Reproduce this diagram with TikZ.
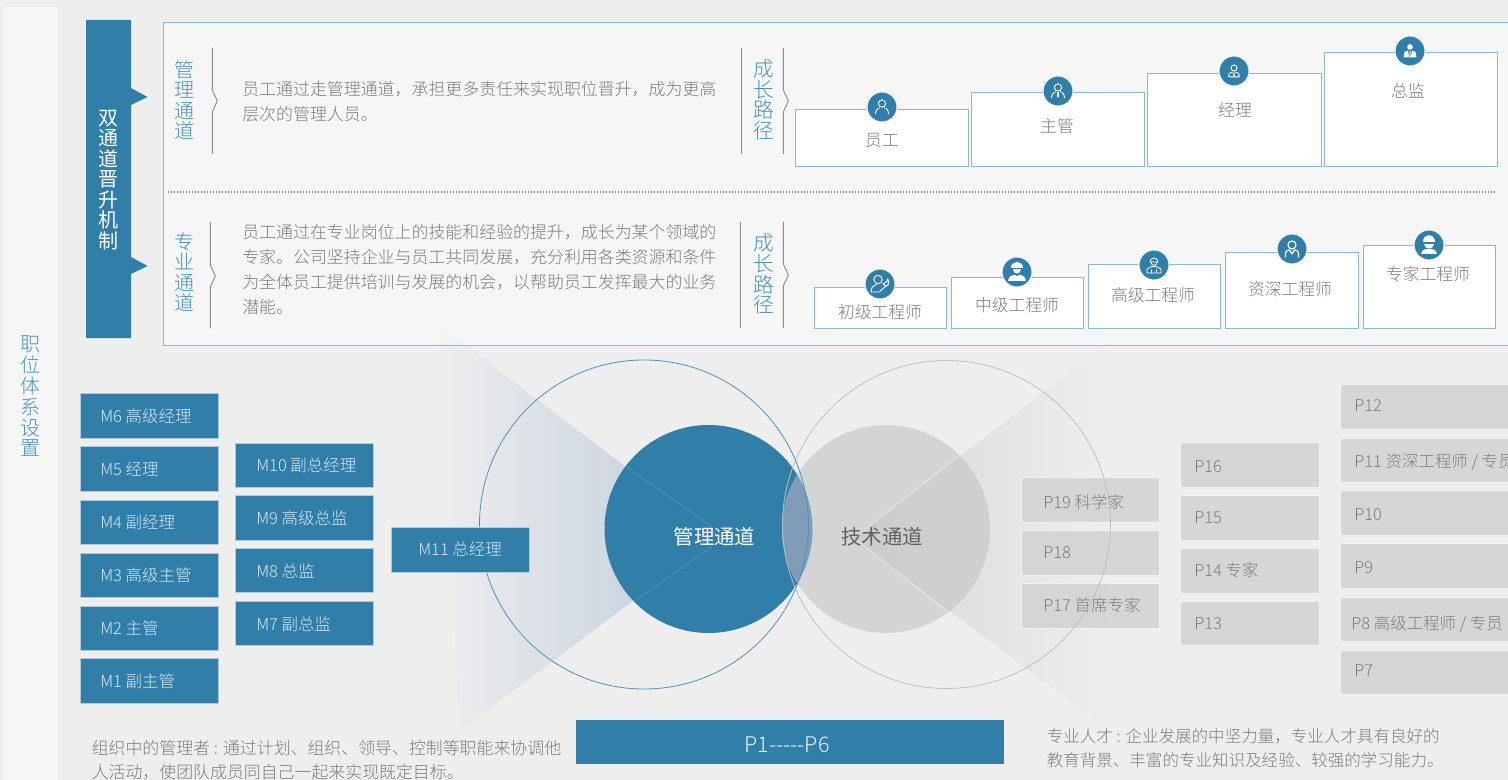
\documentclass[tikz,border=0pt]{standalone}
\usepackage{fontspec}
\setmainfont{Noto Sans CJK SC}[UprightFont=* Light]
\newfontfamily\regf{Noto Sans CJK SC}
\usetikzlibrary{fadings,calc}
\definecolor{bgc}{HTML}{EEEEEE}
\definecolor{panelc}{HTML}{F6F6F6}
\definecolor{mainb}{HTML}{317EA9}
\definecolor{textb}{HTML}{4A92BA}
\definecolor{edgeb}{HTML}{8BB8D2}
\definecolor{greyb}{HTML}{D3D4D5}
\definecolor{txtg}{HTML}{7C7C7C}
\definecolor{txtl}{HTML}{D6E9F4}
\definecolor{halo}{HTML}{EEF3F6}
\definecolor{fanc}{HTML}{BECCDC}
\definecolor{lens}{HTML}{7F9DB8}
\tikzfading[name=fanleft, left color=transparent!100, right color=transparent!0]
\tikzfading[name=fanright, left color=transparent!0, right color=transparent!100]
\tikzset{
  x=.75pt,y=-.75pt,
  lbl/.style={inner sep=0pt,text height=1em,text depth=0em},
  mbox/.style={fill=mainb,draw=white!60!mainb,line width=.6pt,inner sep=0pt,outer sep=0pt,anchor=north west},
  pbox/.style={fill=greyb,fill opacity=.92,draw=white!70!greyb,line width=.7pt,inner sep=0pt,outer sep=0pt,anchor=north west},
  wbox/.style={fill=white,draw=edgeb,line width=.6pt,inner sep=0pt,outer sep=0pt,anchor=north west},
  mlbl/.style={lbl,text=txtl,font=\fontsize{12.35}{14}\selectfont,anchor=west},
  plbl/.style={lbl,text=txtg,font=\fontsize{12.35}{14}\selectfont,anchor=west},
  wlbl/.style={lbl,text=txtg,font=\fontsize{12.6}{14}\selectfont},
  vblue/.style={inner sep=0pt,text=textb,align=center,font=\fontsize{15.5}{15.5}\selectfont},
  para/.style={inner sep=0pt,text=txtg,align=left,anchor=west,font=\fontsize{12.7}{18.75}\selectfont},
  parab/.style={inner sep=0pt,text=txtg,align=left,anchor=west,font=\fontsize{12.68}{17.8}\selectfont},
  iconc/.style={circle,fill=mainb,draw=halo,line width=.8pt,minimum size=22.5pt,inner sep=0pt},
  ico/.style={draw=white,line width=.7pt,line cap=round,line join=round},
  brk/.style={draw=black!45,line width=.7pt},
}
% style prefix, name, x1,y1,x2,y2, text x, text y, text
\newcommand\bxt[9]{%
  \pgfmathsetmacro\bxw{(#5-#3)*.75}\pgfmathsetmacro\bxh{(#6-#4)*.75}%
  \node[#1box,minimum width=\bxw pt,minimum height=\bxh pt] (#2) at (#3,#4) {};
  \node[#1lbl] (#2t) at (#7,#8) {#9};}
\newcommand\wbx[8]{% name,x1,y1,x2,y2,textx,texty,text
  \pgfmathsetmacro\bxw{(#4-#2)*.75}\pgfmathsetmacro\bxh{(#5-#3)*.75}%
  \node[wbox,minimum width=\bxw pt,minimum height=\bxh pt] (#1) at (#2,#3) {};
  \node[wlbl] (#1t) at (#6,#7) {#8};}
\newcommand\notchline[4]{% x, ytop, ybot, ymid
  \draw[brk] (#1,#2) -- (#1,#4-11) -- (#1+5,#4) -- (#1,#4+11) -- (#1,#3);}
\newcommand\uhead{\draw[ico] (0,-3.5) circle (3.6);}
\newcommand\ubody{\draw[ico] (-6.5,7) .. controls (-6.5,2.5) and (-3.5,1) .. (-2.5,.8) (2.5,.8) .. controls (3.5,1) and (6.5,2.5) .. (6.5,7);}
\begin{document}
\begin{tikzpicture}
\useasboundingbox (0,0) rectangle (1508,780);
\clip (0,0) rectangle (1508,780);
\fill[bgc] (0,0) rectangle (1508,780);
% left strip
\fill[panelc] (3,7) rectangle (58,780);
\node[vblue,font=\fontsize{15}{15.6}\selectfont] (side) at (30,396.5) {职\\位\\体\\系\\设\\置};
% top panel
\fill[panelc,draw=edgeb,line width=.7pt] (163,22) rectangle (1512,345);
% banner
\fill[mainb] (86,20) -- (131,20) -- (131,88) -- (147.5,97) -- (131,105) -- (131,257) -- (147.5,266) -- (131,274) -- (131,338) -- (86,338) -- cycle;
\node[inner sep=0pt,text=white,align=center,font=\regf\fontsize{15}{15.4}\selectfont] (banner) at (108.5,180) {双\\通\\道\\晋\\升\\机\\制};
% panel content
\node[vblue,font=\fontsize{15}{15.4}\selectfont] (mgmt) at (184,100) {管\\理\\通\\道};
\node[vblue,font=\fontsize{15}{15.4}\selectfont] (prof) at (184,272) {专\\业\\通\\道};
\notchline{212.3}{48}{154}{101}
\notchline{210.3}{222}{328}{276}
\node[para] (d1) at (242,101.5) {员工通过走管理通道，承担更多责任来实现职位晋升，成为更高\\层次的管理人员。};
\node[para] (d2) at (242,269.5) {员工通过在专业岗位上的技能和经验的提升，成长为某个领域的\\专家。公司坚持企业与员工共同发展，充分利用各类资源和条件\\为全体员工提供培训与发展的机会，以帮助员工发挥最大的业务\\潜能。};
\draw[brk] (741,48) -- (741,154);
\draw[brk] (740.5,222) -- (740.5,328);
\notchline{783.3}{48}{154}{101}
\notchline{783.3}{222}{328}{275}
\node[vblue] (g1) at (764,99.5) {成\\长\\路\\径};
\node[vblue] (g2) at (764,274) {成\\长\\路\\径};
\draw[black!55,line width=.8pt,dash pattern=on .8pt off 1.45pt] (168,192) -- (1497,192);
% top boxes
\wbx{w1}{795}{109}{968.5}{166}{882}{140}{员工}
\wbx{w2}{971}{92.5}{1144.5}{166}{1057}{126}{主管}
\wbx{w3}{1147.5}{73.5}{1321}{166}{1235}{110}{经理}
\wbx{w4}{1324}{52.5}{1497}{166}{1408}{91}{总监}
\wbx{w5}{814}{287}{946}{328.5}{880}{312}{初级工程师}
\wbx{w6}{951.5}{277}{1083}{328.5}{1017}{305}{中级工程师}
\wbx{w7}{1088.5}{264.5}{1220}{328.5}{1153}{295}{高级工程师}
\wbx{w8}{1225.5}{252}{1358}{328.5}{1290}{289}{资深工程师}
\wbx{w9}{1363}{245.5}{1495}{328.5}{1428}{274}{专家工程师}
% icons
\node[iconc] (i1) at (882,107) {};
\begin{scope}[shift={(i1.center)}]\uhead\ubody\end{scope}
\node[iconc] (i2) at (1058,91) {};
\begin{scope}[shift={(i2.center)}]\uhead\ubody\fill[white] (-1,1.5) -- (1,1.5) -- (.7,6.5) -- (-.7,6.5) -- cycle;\end{scope}
\node[iconc] (i3) at (1234,71) {};
\begin{scope}[shift={(i3.center)},scale=.85]\uhead\draw[ico] (-6,7) -- (-6,4) .. controls (-6,2) and (-3,1.5) .. (-2,1.5) (2,1.5) .. controls (3,1.5) and (6,2) .. (6,4) -- (6,7) -- (-6,7);\fill[white] (0,3) circle (1.3) (-.7,3) rectangle (.7,7);\end{scope}
\node[iconc] (i4) at (1410,51) {};
\begin{scope}[shift={(i4.center)}]\fill[white] (0,-4) circle (2.8);\fill[white] (-6.5,6.5) -- (-5.5,1) -- (-2,-.5) -- (-.8,6.5) -- cycle (6.5,6.5) -- (5.5,1) -- (2,-.5) -- (.8,6.5) -- cycle (-.5,0) -- (.5,0) -- (.5,6.5) -- (-.5,6.5) -- cycle;\end{scope}
\node[iconc] (i5) at (880,284) {};
\begin{scope}[shift={(i5.center)}]\draw[ico] (-2,-4.5) circle (4.2);\draw[ico] (-9,8) .. controls (-9,3) and (-6,1) .. (-3.5,.5);\draw[ico] (-9,8) -- (-1,8) -- (6,2);\draw[ico] (6,2) -- (3,0) -- (7,-2.5) -- (7.5,-5) -- (9,-2.5) -- (8,1) -- cycle;\end{scope}
\node[iconc] (i6) at (1017,272) {};
\begin{scope}[shift={(i6.center)}]\fill[white] (-6,-3.5) .. controls (-6,-12) and (6,-12) .. (6,-3.5) -- cycle;\fill[white] (-3.7,-2.5) .. controls (-3.7,3) and (3.7,3) .. (3.7,-2.5) -- cycle;\fill[white] (-9,9) .. controls (-9,5) and (-5,3) .. (-3,2.7) -- (0,4) -- (3,2.7) .. controls (5,3) and (9,5) .. (9,9) -- cycle;\end{scope}
\node[iconc] (i7) at (1154,265) {};
\begin{scope}[shift={(i7.center)}]\draw[ico,line width=.6pt] (-4,-3) arc[start angle=180,end angle=360,radius=4] -- cycle;\draw[ico,line width=.6pt] (-3,-3) .. controls (-3,1.5) and (3,1.5) .. (3,-3);\draw[ico,line width=.6pt] (-7,8) -- (-7,4) -- (-2.5,1.5) -- (2.5,1.5) -- (7,4) -- (7,8) -- cycle (-2.5,4.5) -- (-2.5,8) (2.5,4.5) -- (2.5,8) ;\end{scope}
\node[iconc] (i8) at (1292,249) {};
\begin{scope}[shift={(i8.center)}]\draw[ico,line width=.9pt] (0,-4) circle (4);\draw[ico,line width=.9pt] (-6.5,8) -- (-6.5,4) .. controls (-6.5,2) and (-4,1) .. (-2.5,1) -- (0,5) -- (2.5,1) .. controls (4,1) and (6.5,2) .. (6.5,4) -- (6.5,8);\end{scope}
\node[iconc] (i9) at (1429,245) {};
\begin{scope}[shift={(i9.center)}]\fill[white] (-6,-3) .. controls (-6,-12) and (6,-12) .. (6,-3) -- cycle;\fill[white] (-5,-1) .. controls (-5,5) and (5,5) .. (5,-1) -- cycle;\fill[white] (-8,9) .. controls (-8,6) and (-5,4) .. (-3,4) -- (3,4) .. controls (5,4) and (8,6) .. (8,9) -- cycle;\end{scope}
% fans
\path[fill=fanc,path fading=fanleft] (437,323) -- (718,537) -- (460,731) -- cycle;
\path[fill=black,fill opacity=.055,path fading=fanright] (852,538) -- (1115,338) -- (1110,731) -- cycle;
% discs
\fill[mainb] (708.5,529) circle (104);
\fill[greyb,fill opacity=.97] (886,529) circle (104);
\begin{scope}
\clip (708.5,529) circle (104);
\fill[lens] (886,529) circle (104);
\end{scope}
\path[fill=black,fill opacity=.035,path fading=fanright] (852,538) -- (1115,338) -- (1110,731) -- cycle;
\draw[white!65!mainb,line width=.4pt,opacity=.35] (627,467) -- (712,527) (633,602) -- (712,547);
\draw[white,line width=.6pt,opacity=.5] (960,455) -- (858,535) (948,612) -- (858,541);
% M boxes
\bxt{m}{m6}{80.5}{393}{218}{438}{100}{416}{M6 高级经理}
\bxt{m}{m5}{80.5}{446}{218}{491}{100}{469}{M5 经理}
\bxt{m}{m4}{80.5}{500}{218}{544}{100}{522}{M4 副经理}
\bxt{m}{m3}{80.5}{553}{218}{597}{100}{575}{M3 高级主管}
\bxt{m}{m2}{80.5}{606}{218}{650}{100}{628}{M2 主管}
\bxt{m}{m1}{80.5}{658}{218}{703}{100}{681}{M1 副主管}
\bxt{m}{m10}{235.5}{443}{373}{487}{256}{465}{M10 副总经理}
\bxt{m}{m9}{235.5}{495}{373}{540}{256}{518}{M9 高级总监}
\bxt{m}{m8}{235.5}{548}{373}{592}{256}{571}{M8 总监}
\bxt{m}{m7}{235.5}{601}{373}{645}{256}{624}{M7 副总监}
% P boxes
\bxt{p}{p19}{1021}{477}{1159}{522}{1043}{502}{P19 科学家}
\bxt{p}{p18}{1021}{530}{1159}{575}{1043}{552}{P18}
\bxt{p}{p17}{1021}{583}{1159}{628}{1043}{605}{P17 首席专家}
\bxt{p}{p16}{1180.5}{442}{1319}{487}{1194}{466}{P16}
\bxt{p}{p15}{1180.5}{495}{1319}{540}{1194}{517}{P15}
\bxt{p}{p14}{1180.5}{548}{1319}{593}{1194}{570}{P14 专家}
\bxt{p}{p13}{1180.5}{601}{1319}{645}{1194}{623}{P13}
\bxt{p}{p12}{1340}{384}{1512}{429}{1354}{405}{P12}
\bxt{p}{p11}{1340}{438}{1512}{482}{1354}{461}{P11 资深工程师 / 专员}
\bxt{p}{p10}{1340}{490}{1512}{535}{1354}{514}{P10}
\bxt{p}{p9}{1340}{543}{1512}{588}{1354}{567}{P9}
\bxt{p}{p8}{1340}{597}{1512}{641}{1351}{623}{P8 高级工程师 / 专员}
\bxt{p}{p7}{1340}{650}{1512}{694}{1354}{670}{P7}
% outer rings
\draw[black!25,line width=.6pt] (946.5,524.5) circle (164);
\draw[mainb!85,line width=.6pt] (644,524.5) circle (164.5);
\bxt{m}{m11}{391}{527}{529}{572}{418}{549}{M11 总经理}
% centre labels
\node[lbl,text=white,font=\regf\fontsize{15.3}{17}\selectfont] (cl) at (714.5,538) {管理通道};
\node[lbl,text=black!62,font=\regf\fontsize{15.3}{17}\selectfont] (cr) at (882,538) {技术通道};
% bottom
\fill[mainb] (576,720) rectangle (1004,764);
\node[lbl,text=white!90!mainb,font=\fontsize{16.2}{17}\selectfont] (pp) at (787,746) {P1-{}-{}-{}-{}-P6};
\node[parab] (bl) at (91.5,760.5) {组织中的管理者 : 通过计划、组织、领导、控制等职能来协调他\\人活动，使团队成员同自己一起来实现既定目标。};
\node[parab,font=\fontsize{12.4}{17.8}\selectfont] (br) at (1046.5,748.5) {专业人才 : 企业发展的中坚力量，专业人才具有良好的\\教育背景、丰富的专业知识及经验、较强的学习能力。};
\end{tikzpicture}
\end{document}
